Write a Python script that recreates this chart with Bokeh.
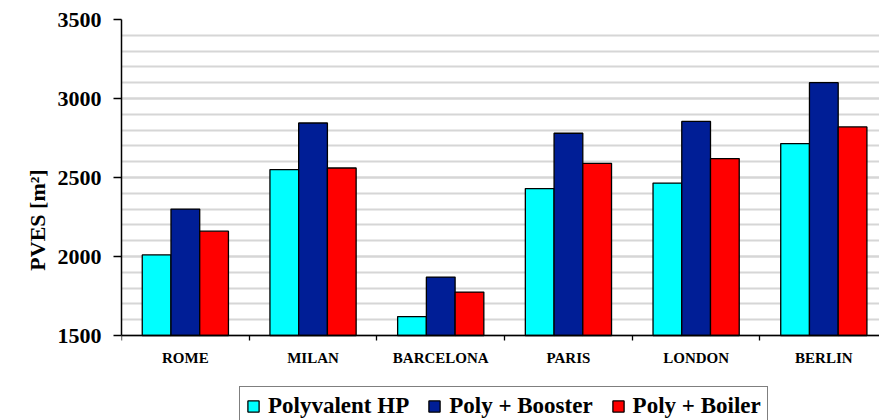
import numpy as np
from bokeh.plotting import figure
from bokeh.models import (ColumnDataSource, Range1d, FixedTicker, SingleIntervalTicker,
                          Legend, LegendItem, Title)
from bokeh.transform import dodge
from bokeh.embed import file_html
from bokeh.resources import INLINE

cities = ["ROME", "MILAN", "BARCELONA", "PARIS", "LONDON", "BERLIN"]
polyvalent_hp = [2010, 2550, 1620, 2430, 2465, 2715]
poly_booster = [2300, 2845, 1870, 2780, 2855, 3100]
poly_boiler = [2160, 2560, 1775, 2590, 2620, 2820]
series_names = ["Polyvalent HP", "Poly + Booster", "Poly + Boiler"]
y_label = "PVES [m²]"
y_min, y_max = 1500, 3500

colors = ["#00FFFF", "#001E96", "#FF0000"]
FONT = "Liberation Serif"

centers = np.arange(len(cities)) + 0.5
src = ColumnDataSource(dict(x=centers, a=polyvalent_hp, b=poly_booster, c=poly_boiler))

# frame spans down to the canvas bottom so the legend can live inside it;
# 316 px correspond to the 1500..3500 value span
frame_h = 401
y_lo = y_max - (y_max - y_min) * frame_h / 316.0

p = figure(width=879, height=420, frame_width=758, frame_height=frame_h,
           output_backend="svg", toolbar_location=None,
           x_range=Range1d(0, 5.936), y_range=Range1d(y_lo, y_max),
           min_border_left=121, min_border_right=0, min_border_top=19, min_border_bottom=0)
p.outline_line_color = None
p.background_fill_color = "white"
p.border_fill_color = "white"

bw = 0.225
renderers = []
for key, off, col in zip(["a", "b", "c"], [-bw, 0, bw], colors):
    r = p.vbar(x=dodge("x", off), top=key, bottom=y_min, width=bw, source=src,
               fill_color=col, line_color="black", line_width=1.3)
    renderers.append(r)

# x axis (drawn at y = 1500)
p.xaxis.fixed_location = y_min
p.xaxis.ticker = FixedTicker(ticks=list(centers), minor_ticks=list(range(len(cities) + 1)))
p.xaxis.major_label_overrides = {float(c): n for c, n in zip(centers, cities)}
p.xaxis.major_tick_line_color = None
p.xaxis.major_tick_out = 0
p.xaxis.major_tick_in = 0
p.xaxis.minor_tick_out = 5
p.xaxis.minor_tick_in = 0
p.xaxis.minor_tick_line_color = "black"
p.xaxis.minor_tick_line_width = 1.3
p.xaxis.axis_line_color = "black"
p.xaxis.axis_line_width = 1.5
p.xaxis.major_label_standoff = 9
p.xaxis.major_label_text_font = FONT
p.xaxis.major_label_text_font_style = "bold"
p.xaxis.major_label_text_font_size = "15px"
p.xaxis.major_label_text_color = "black"

# y axis
p.yaxis.bounds = (y_min, y_max)
p.yaxis.ticker = SingleIntervalTicker(interval=500, num_minor_ticks=5)
p.yaxis.minor_tick_line_color = None
p.yaxis.major_tick_out = 8
p.yaxis.major_tick_in = 0
p.yaxis.major_tick_line_color = "black"
p.yaxis.major_tick_line_width = 1.3
p.yaxis.axis_line_color = "black"
p.yaxis.axis_line_width = 1.5
p.yaxis.major_label_standoff = 12
p.yaxis.major_label_text_font = FONT
p.yaxis.major_label_text_font_style = "bold"
p.yaxis.major_label_text_font_size = "22px"
p.yaxis.major_label_text_color = "black"

# y label as a left title, shifted up to centre on the 1500..3500 span
ylab = Title(text=y_label, align="center", offset=44,
             text_font=FONT, text_font_style="bold", text_font_size="22px",
             text_color="black")
p.add_layout(ylab, "left")

# grids
p.xgrid.grid_line_color = None
p.ygrid.bounds = (y_min, y_max)
p.ygrid.grid_line_color = "#d6d6d6"
p.ygrid.grid_line_width = 2
p.ygrid.minor_grid_line_color = "#d6d6d6"
p.ygrid.minor_grid_line_width = 2

legend = Legend(items=[LegendItem(label=n, renderers=[r]) for n, r in zip(series_names, renderers)],
                orientation="horizontal", location=(118, -6))
legend.label_text_font = FONT
legend.label_text_font_style = "bold"
legend.label_text_font_size = "23px"
legend.label_text_color = "black"
legend.label_height = 23
legend.glyph_width = 14
legend.glyph_height = 14
legend.label_standoff = 8
legend.spacing = 18
legend.padding = 6
legend.margin = 0
legend.border_line_color = "black"
legend.border_line_width = 1.3
legend.background_fill_color = "white"
legend.background_fill_alpha = 1
p.add_layout(legend)

open("out.html", "w").write(file_html(p, INLINE))
